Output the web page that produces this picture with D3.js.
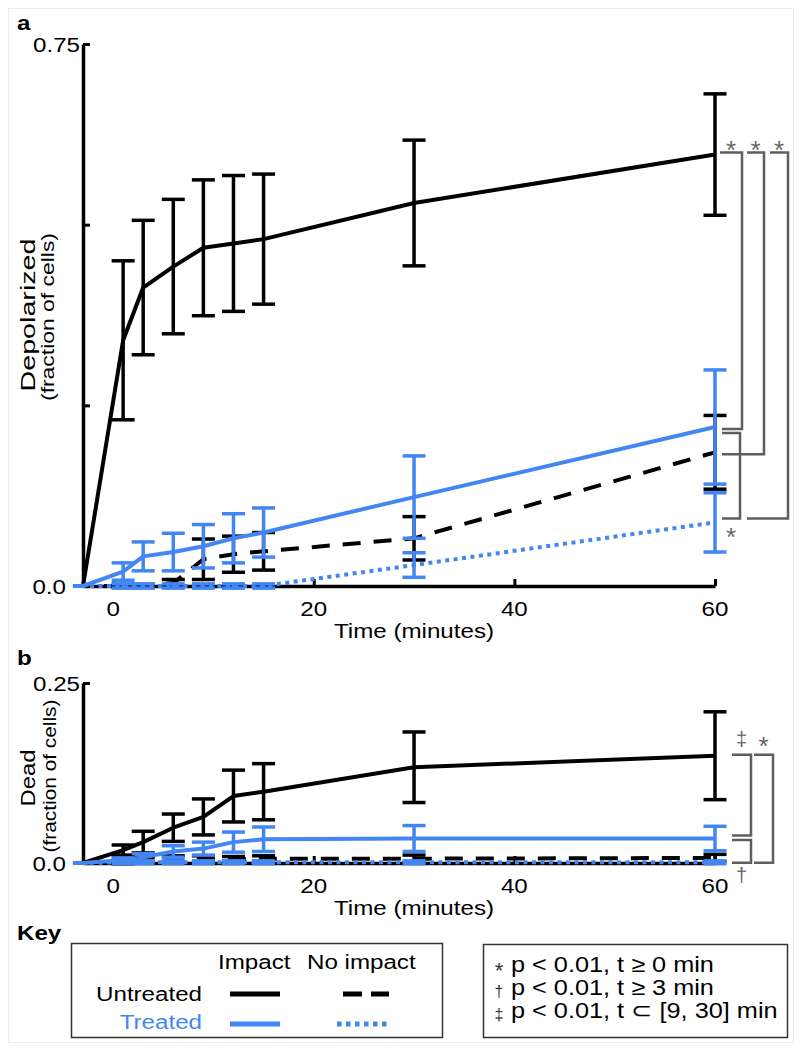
<!DOCTYPE html>
<html><head><meta charset="utf-8">
<script src="https://cdn.jsdelivr.net/npm/d3@7"></script>
<style>
body{margin:0;background:#fff}
svg{display:block}
text{font-family:"Liberation Sans",Arial,Helvetica,sans-serif}
</style>
</head><body>
<svg id="c" width="800" height="1048"></svg>
<script>
// ---------- data ----------
const times = [-4, -3, 1, 3, 6, 9, 12, 15, 30, 60];
const xTicks = [0, 20, 40, 60];
const xTickLabels = ["0", "20", "40", "60"];
const depYTicks = [0, 0.25, 0.5, 0.75];
const depYLabels = ["0.0", "", "", "0.75"];
const deadYTicks = [0, 0.25];
const deadYLabels = ["0.0", "0.25"];
const seriesNames = ["Untreated impact", "Untreated no impact", "Treated impact", "Treated no impact"];

// panel a: Depolarized (fraction of cells)
const depUntreatedImpact      = [0, 0, 0.34, 0.413, 0.442, 0.468, 0.474, 0.48, 0.53, 0.597];
const depUntreatedImpactErr   = [null, null, 0.11, 0.093, 0.093, 0.094, 0.094, 0.09, 0.087, 0.084];
const depUntreatedNoImpact    = [0, 0, 0, 0, 0.004, 0.037, 0.044, 0.048, 0.066, 0.185];
const depUntreatedNoImpactErr = [null, null, 0.002, 0.002, 0.005, 0.028, 0.025, 0.026, 0.03, 0.051];
const depTreatedImpact        = [0, 0, 0.02, 0.041, 0.047, 0.055, 0.066, 0.074, 0.123, 0.22];
const depTreatedImpactErr     = [null, null, 0.012, 0.02, 0.026, 0.03, 0.034, 0.034, 0.057, 0.079];
const depTreatedNoImpact      = [0, 0, 0, 0, 0, 0, 0, 0, 0.029, 0.088];
const depTreatedNoImpactErr   = [null, null, 0.003, 0.003, 0.003, 0.003, 0.003, 0.003, 0.017, 0.041];

// panel b: Dead (fraction of cells)
const deadUntreatedImpact      = [0, 0, 0.018, 0.029, 0.049, 0.064, 0.093, 0.099, 0.133, 0.149];
const deadUntreatedImpactErr   = [null, null, 0.007, 0.015, 0.019, 0.025, 0.036, 0.039, 0.049, 0.061];
const deadUntreatedNoImpact    = [0, 0, 0.002, 0.004, 0.006, 0.006, 0.005, 0.006, 0.006, 0.007];
const deadUntreatedNoImpactErr = [null, null, 0.003, 0.004, 0.004, 0.004, 0.004, 0.004, 0.005, 0.005];
const deadTreatedImpact        = [0, 0, 0.004, 0.008, 0.016, 0.02, 0.029, 0.033, 0.034, 0.034];
const deadTreatedImpactErr     = [null, null, 0.003, 0.005, 0.008, 0.009, 0.014, 0.017, 0.018, 0.017];
const deadTreatedNoImpact      = [0, 0, 0.001, 0.001, 0.001, 0.001, 0.001, 0.001, 0.001, 0.001];
const deadTreatedNoImpactErr   = [null, null, 0.002, 0.002, 0.002, 0.002, 0.002, 0.002, 0.002, 0.002];

// significance comparisons at t = 60 min
const depComparisons = [
  ["Untreated impact", "Treated impact", "*"],
  ["Untreated impact", "Untreated no impact", "*"],
  ["Untreated impact", "Treated no impact", "*"],
  ["Treated impact", "Treated no impact", "*"]
];
const deadComparisons = [
  ["Untreated impact", "Treated impact", "\u2021"],
  ["Untreated impact", "Treated no impact", "*"],
  ["Treated impact", "Treated no impact", "\u2020"]
];

const keyColumns = ["Impact", "No impact"];
const keyRows = ["Untreated", "Treated"];
const sigSymbols = ["*", "\u2020", "\u2021"];
const sigTexts = ["p < 0.01, t \u2265 0 min", "p < 0.01, t \u2265 3 min", "p < 0.01, t \u2282 [9, 30] min"];

// ---------- styles ----------
const BLUE = "#4286f4";
const GRAY = "#5e5e5e";
const SX = 1.15;
const styles = {
  "Untreated impact":    {color: "#000", dash: null},
  "Untreated no impact": {color: "#000", dash: "18,13"},
  "Treated impact":      {color: BLUE,   dash: null},
  "Treated no impact":   {color: BLUE,   dash: "4,4.5"}
};

const svg = d3.select("#c");
svg.append("rect").attr("x", 8.5).attr("y", 8.5).attr("width", 785).attr("height", 1034)
  .attr("fill", "none").attr("stroke", "#ececec").attr("stroke-width", 1);

function txt(g, x, y, s, o = {}) {
  return g.append("text")
    .attr("transform", `translate(${x},${y}) scale(${o.sx == null ? SX : o.sx},1)`)
    .attr("font-size", o.fs || 21)
    .attr("text-anchor", o.anchor || "start")
    .attr("fill", o.fill || "#000")
    .attr("font-weight", o.bold ? "bold" : "normal")
    .text(s);
}
function vtxt(g, x, y, s, fs, len) {
  return g.append("text")
    .attr("transform", `translate(${x},${y}) rotate(-90)`)
    .attr("font-size", fs).attr("text-anchor", "middle")
    .attr("textLength", len).attr("lengthAdjust", "spacingAndGlyphs")
    .text(s);
}
function sym(g, cx, cy, ch, fs, fill) {
  const k = ch === "*" ? 0.57 : 0.29;
  return g.append("text").attr("x", cx).attr("y", cy + k * fs)
    .attr("font-size", fs).attr("text-anchor", "middle").attr("fill", fill).text(ch);
}

const x = d3.scaleLinear().domain([-3, 60]).range([83, 715]);

function drawPanel(p) {
  const g = svg.append("g");
  const y = p.y;
  const y0 = y(0);
  // axes
  g.append("g").attr("transform", `translate(0,${y0})`)
    .call(d3.axisBottom(x).tickValues(xTicks).tickSizeInner(-7).tickSizeOuter(0).tickFormat(""))
    .call(a => {
      a.select(".domain").attr("stroke", "#000").attr("stroke-width", 3.5);
      a.selectAll(".tick line").attr("stroke", "#000").attr("stroke-width", 3);
    });
  g.append("g").attr("transform", `translate(${x(-3)},0)`)
    .call(d3.axisLeft(y).tickValues(p.yTicks).tickSizeInner(-7).tickSizeOuter(0).tickFormat(""))
    .call(a => {
      a.select(".domain").attr("stroke", "#000").attr("stroke-width", 3.5);
      a.selectAll(".tick line").attr("stroke", "#000").attr("stroke-width", 3);
    });
  // tick labels
  p.yTicks.forEach((v, i) => {
    if (!p.yLabels[i]) return;
    const xe = v === 0 ? x(-3) - 17 : x(-3) - 3;
    txt(g, xe, y(v) + 7.5, p.yLabels[i], {anchor: "end"});
  });
  xTicks.forEach((v, i) => txt(g, x(v), y0 + 30, xTickLabels[i], {anchor: "middle"}));
  txt(g, 414, y0 + 52, "Time (minutes)", {anchor: "middle"});
  // panel letter & y titles
  txt(g, 17, p.letterY, p.letter, {bold: true, fs: 21});
  vtxt(g, 35, p.titleY, p.title, 21, p.titleLen);
  vtxt(g, p.subX, p.subY, "(fraction of cells)", 18, p.subLen);

  // series: error bars then line
  seriesNames.forEach(name => {
    const st = styles[name];
    const vals = p.values[name], errs = p.errors[name];
    const eg = g.append("g").attr("stroke", st.color).attr("stroke-width", 3.5).attr("fill", "none");
    times.forEach((t, i) => {
      const e = errs[i];
      if (e == null) return;
      const cx = x(t), yt = y(vals[i] + e), yb = y(vals[i] - e);
      eg.append("line").attr("x1", cx).attr("x2", cx).attr("y1", yt).attr("y2", yb);
      eg.append("line").attr("x1", cx - 11.5).attr("x2", cx + 11.5).attr("y1", yt).attr("y2", yt);
      eg.append("line").attr("x1", cx - 11.5).attr("x2", cx + 11.5).attr("y1", yb).attr("y2", yb);
    });
    const line = d3.line().x((d, i) => x(times[i])).y(d => y(d));
    g.append("path").datum(vals).attr("d", line)
      .attr("fill", "none").attr("stroke", st.color).attr("stroke-width", 4)
      .attr("stroke-linejoin", "round")
      .attr("stroke-dasharray", st.dash);
  });

  // significance brackets at the last time point
  const last = times.length - 1, x60 = x(times[last]);
  const bg = g.append("g");
  p.comparisons.forEach((c, i) => {
    const L = p.layout[i];
    const y1 = y(p.values[c[0]][last]) + L.dy1;
    const y2 = y(p.values[c[1]][last]) + L.dy2;
    bg.append("path")
      .attr("d", `M${x60 + L.xTop},${y1}H${x60 + L.xV}V${y2}H${x60 + L.xBot}`)
      .attr("fill", "none").attr("stroke", GRAY).attr("stroke-width", 2.5);
    const fs = c[2] === "*" ? 26 : 20;
    if (L.pos === "above") {
      sym(bg, x60 + (L.xTop + L.xV) / 2, y1 - p.symGapTop, c[2], fs, "#666");
    } else {
      sym(bg, x60 + (L.xBot + L.xV) / 2, y2 + p.symGapBot, c[2], fs, "#666");
    }
  });
}

drawPanel({
  y: d3.scaleLinear().domain([0, 0.75]).range([586, 44]),
  yTicks: depYTicks, yLabels: depYLabels,
  letter: "a", letterY: 30,
  title: "Depolarized", titleY: 315, titleLen: 153,
  subX: 54, subY: 317, subLen: 168,
  values: {
    "Untreated impact": depUntreatedImpact, "Untreated no impact": depUntreatedNoImpact,
    "Treated impact": depTreatedImpact, "Treated no impact": depTreatedNoImpact
  },
  errors: {
    "Untreated impact": depUntreatedImpactErr, "Untreated no impact": depUntreatedNoImpactErr,
    "Treated impact": depTreatedImpactErr, "Treated no impact": depTreatedNoImpactErr
  },
  comparisons: depComparisons,
  layout: [
    {dy1: -2, dy2: 2, xTop: 5, xBot: 7, xV: 27, pos: "above"},
    {dy1: -2, dy2: 2, xTop: 32, xBot: 7, xV: 49, pos: "above"},
    {dy1: -2, dy2: -4, xTop: 55, xBot: 32, xV: 73, pos: "above"},
    {dy1: 6, dy2: -4, xTop: 7, xBot: 7, xV: 25, pos: "below"}
  ],
  symGapTop: 8, symGapBot: 13
});

drawPanel({
  y: d3.scaleLinear().domain([0, 0.25]).range([863, 683]),
  yTicks: deadYTicks, yLabels: deadYLabels,
  letter: "b", letterY: 665,
  title: "Dead", titleY: 778, titleLen: 57,
  subX: 56, subY: 776, subLen: 153,
  values: {
    "Untreated impact": deadUntreatedImpact, "Untreated no impact": deadUntreatedNoImpact,
    "Treated impact": deadTreatedImpact, "Treated no impact": deadTreatedNoImpact
  },
  errors: {
    "Untreated impact": deadUntreatedImpactErr, "Untreated no impact": deadUntreatedNoImpactErr,
    "Treated impact": deadTreatedImpactErr, "Treated no impact": deadTreatedNoImpactErr
  },
  comparisons: deadComparisons,
  layout: [
    {dy1: -1, dy2: -3, xTop: 17, xBot: 17, xV: 36, pos: "above"},
    {dy1: -1, dy2: 0.5, xTop: 39, xBot: 39, xV: 58, pos: "above"},
    {dy1: 1.5, dy2: 0.5, xTop: 17, xBot: 17, xV: 36, pos: "below"}
  ],
  symGapTop: 15, symGapBot: 13
});

// ---------- key ----------
const kg = svg.append("g");
txt(kg, 17, 940, "Key", {bold: true});
kg.append("rect").attr("x", 71.5).attr("y", 943.5).attr("width", 371).attr("height", 94)
  .attr("fill", "none").attr("stroke", "#333").attr("stroke-width", 1.5);
const colX = [218, 307];
keyColumns.forEach((c, i) => txt(kg, colX[i], 969, c));
const rowY = [1001, 1029];
const lineY = [994, 1024];
const rowColor = ["#000", BLUE];
keyRows.forEach((r, i) => txt(kg, 202, rowY[i], r, {anchor: "end", fill: rowColor[i]}));
const keySeries = [
  ["Untreated impact", 230, 280, 0], ["Untreated no impact", 343, 389, 0],
  ["Treated impact", 230, 280, 1], ["Treated no impact", 337, 387, 1]
];
keySeries.forEach(([name, x1, x2, r]) => {
  const st = styles[name];
  kg.append("line").attr("x1", x1).attr("x2", x2).attr("y1", lineY[r]).attr("y2", lineY[r])
    .attr("stroke", st.color).attr("stroke-width", 5)
    .attr("stroke-dasharray", name === "Untreated no impact" ? "19,9" : (name === "Treated no impact" ? "4.5,4.5" : null));
});

kg.append("rect").attr("x", 483.5).attr("y", 944.5).attr("width", 304).attr("height", 93)
  .attr("fill", "none").attr("stroke", "#333").attr("stroke-width", 1.5);
const sigY = [972, 995, 1018];
const sigCY = [965, 992, 1015];
sigSymbols.forEach((s, i) => {
  sym(kg, 499, sigCY[i], s, s === "*" ? 22 : 16, "#333");
  txt(kg, 511, sigY[i], sigTexts[i], {fs: 22});
});
</script>
</body></html>
